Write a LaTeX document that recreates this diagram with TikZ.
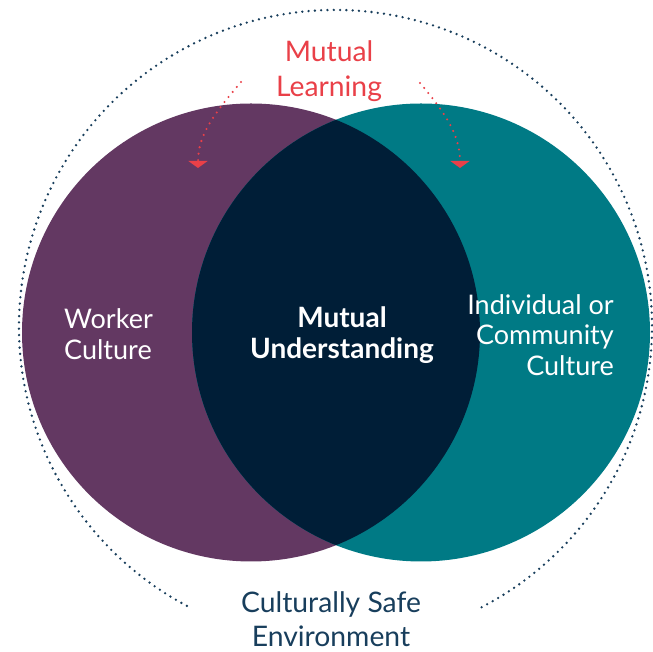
\documentclass[tikz,border=0pt]{standalone}
\usepackage{fontspec}
\setmainfont{Lato}
\usepackage{tikz}
\usetikzlibrary{arrows.meta}

\definecolor{workerpurple}{RGB}{99,56,98}
\definecolor{communityteal}{RGB}{0,122,133}
\definecolor{lensnavy}{RGB}{0,30,55}
\definecolor{learnred}{RGB}{233,64,72}
\definecolor{safeblue}{RGB}{24,62,92}

\begin{document}
\begin{tikzpicture}[x=1pt,y=1pt,
        circletext/.style={font=\fontsize{27}{30.5}\selectfont, text=white, inner sep=0pt},
        outertext/.style={font=\fontsize{28.3}{34.5}\selectfont, align=center, inner sep=0pt},
        learnarrow/.style={learnred, line width=2.3pt, line cap=round,
            dash pattern=on 0pt off 6.5pt, shorten >=5pt,
            -{Triangle[width=19pt,length=7pt,sep=0pt]}},
        %safedots/.style={densely dotted},
    ]
    \useasboundingbox (0,0) rectangle (653,652);
    % outer (environment) ring, open at the bottom
    \draw[safeblue, line width=2.6pt, line cap=round, dash pattern=on 0pt off 6.3pt]
        (335.5,325.5) ++(-62.5:316.5) arc[start angle=-62.5, end angle=242.5, radius=316.5];
    % the two cultures
    \fill[workerpurple] (251,319.5) circle[radius=229];
    \fill[communityteal] (421,319.5) circle[radius=229];
    \begin{scope}
        \clip (251,319.5) circle[radius=229];
        \fill[lensnavy] (421,319.5) circle[radius=229];
    \end{scope}
    \node[circletext, anchor=west, align=left] (worker) at (64,318) {Worker\\Culture};
    \node[circletext, align=center, font=\fontsize{28}{30.5}\selectfont\bfseries] (understanding) at (342,317) {Mutual\\Understanding};
    \node[circletext, anchor=east, align=right] (community) at (614,317) {Individual or\\Community\\Culture};
    \node[outertext, text=learnred] (learning) at (329,581) {Mutual\\Learning};
    \node[outertext, text=safeblue] (safe) at (331,33) {Culturally Safe\\Environment};
    % mutual learning arrows
    \coordinate (learnL) at (241,570);
    \coordinate (learnR) at (420,569);
    \coordinate (tipL) at (198,479);
    \coordinate (tipR) at (460,479);
    \draw[learnarrow] (learnL) to[out=-130,in=90] (tipL);
    \draw[learnarrow] (learnR) to[out=-50,in=90] (tipR);
\end{tikzpicture}
\end{document}
